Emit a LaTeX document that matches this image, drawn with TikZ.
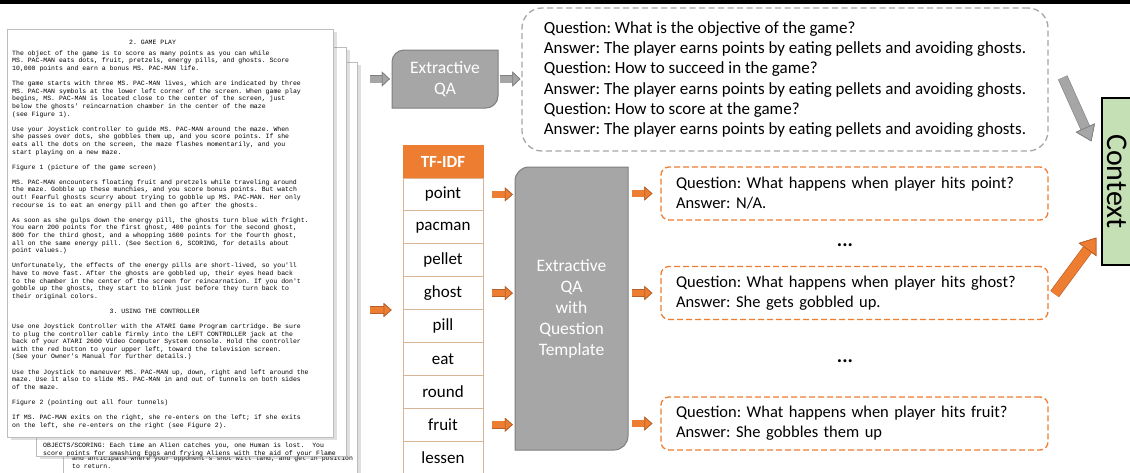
\documentclass[tikz,border=0pt]{standalone}
\usepackage{fontspec}
\setmainfont{Carlito}
\newfontfamily\docfont{Liberation Mono}
\usetikzlibrary{arrows.meta,positioning,shadows}
\frenchspacing

\definecolor{qaorange}{HTML}{ED7D31}
\definecolor{orangeedge}{HTML}{B8602A}
\definecolor{qagray}{HTML}{A6A6A6}
\definecolor{grayedge}{HTML}{7F7F7F}
\definecolor{ctxgreen}{HTML}{C5E0B4}
\definecolor{celledge}{HTML}{D8B596}
\definecolor{pageedge}{HTML}{BDBDBD}

\begin{document}
\begin{tikzpicture}[x=1pt,y=-1pt,node distance=32.9pt,on grid,
    docpage/.style={draw=pageedge,fill=white,line width=0.6pt,
      drop shadow={shadow xshift=4pt,shadow yshift=-3pt,opacity=0.25}},
    doctext/.style={font=\docfont\fontsize{6.5}{7.59}\selectfont,align=left,
      anchor=north west,inner sep=0pt},
    qashape/.style={fill=qagray,draw=grayedge,line width=1pt},
    qatext/.style={text=white,font=\fontsize{17.5}{21}\selectfont,align=center,inner sep=0pt},
    qalist/.style={draw=qagray,line width=1.3pt,dash pattern=on 6pt off 3.5pt,
      rounded corners=20pt,font=\fontsize{17}{20.2}\selectfont,align=left,
      minimum width=526pt,minimum height=143pt},
    qitem/.style={draw=qaorange,line width=1.3pt,dash pattern=on 6pt off 3pt,
      rounded corners=8pt,font=\fontsize{16.5}{20.2}\selectfont,align=left,
      text width=357pt,inner xsep=15pt,minimum height=53pt},
    wordcell/.style={draw=celledge,line width=0.8pt,fill=white,minimum width=80pt,
      minimum height=32.9pt,inner sep=0pt,font=\fontsize{17}{20}\selectfont},
    headcell/.style={wordcell,fill=qaorange,draw=qaorange,text=white,
      font=\bfseries\fontsize{17}{20}\selectfont},
    dotsnode/.style={font=\bfseries\fontsize{20}{24}\selectfont,inner sep=0pt},
    ctxbox/.style={draw=black,fill=ctxgreen,line width=1.2pt,minimum width=30pt,
      minimum height=167pt,inner sep=0pt,font=\fontsize{30}{36}\selectfont},
    grayarrow/.style={draw=qagray,line width=7pt,
      -{Triangle[length=8pt,width=15pt,line width=0.7pt,color=grayedge,fill=qagray]},
      preaction={draw=grayedge,line width=8.2pt}},
    orangearrow/.style={draw=qaorange,line width=6.5pt,
      -{Triangle[length=8pt,width=14pt,line width=0.7pt,color=orangeedge,fill=qaorange]},
      preaction={draw=orangeedge,line width=7.7pt}},
    grayslant/.style={draw=qagray,line width=9pt,
      -{Triangle[length=15pt,width=21pt,line width=0.7pt,color=grayedge,fill=qagray]},
      preaction={draw=grayedge,line width=10.2pt}},
    orangeslant/.style={draw=qaorange,line width=9.5pt,
      -{Triangle[length=15pt,width=22pt,line width=0.7pt,color=orangeedge,fill=qaorange]},
      preaction={draw=orangeedge,line width=10.7pt}}]
  \useasboundingbox (0,0) rectangle (1130,472);
  \fill[white] (0,0) rectangle (1130,472);
  \fill[black] (0,0) rectangle (1130,4);

  % stack of manual pages
  \node[docpage,minimum width=294pt,minimum height=428pt] (pagec) at (210,276) {};
  \node[doctext] (pagectext) at (72,455.5) {and anticipate where your opponent's shot will land, and get in position\\to return.};
  \node[docpage,minimum width=310pt,minimum height=409pt] (pageb) at (191,251.5) {};
  \node[doctext] (pagebtext) at (43,442.5) {OBJECTS/SCORING: Each time an Alien catches you, one Human is lost.~ You\\score points for smashing Eggs and frying Aliens with the aid of your Flame};
  \node[docpage,minimum width=326pt,minimum height=408pt] (pagea) at (170,233) {};
  \node[doctext] (pageatext) at (12,39.8) {\hspace*{117pt}2. GAME PLAY\\[3.41pt]
The object of the game is to score as many points as you can while\\
MS. PAC-MAN eats dots, fruit, pretzels, energy pills, and ghosts. Score\\
10,000 points and earn a bonus MS. PAC-MAN life.\\
~\\
The game starts with three MS. PAC-MAN lives, which are indicated by three\\
MS. PAC-MAN symbols at the lower left corner of the screen. When game play\\
begins, MS. PAC-MAN is located close to the center of the screen, just\\
below the ghosts' reincarnation chamber in the center of the maze\\
(see Figure 1).\\
~\\
Use your Joystick controller to guide MS. PAC-MAN around the maze. When\\
she passes over dots, she gobbles them up, and you score points. If she\\
eats all the dots on the screen, the maze flashes momentarily, and you\\
start playing on a new maze.\\
~\\
Figure 1 (picture of the game screen)\\
~\\
MS. PAC-MAN encounters floating fruit and pretzels while traveling around\\
the maze. Gobble up these munchies, and you score bonus points. But watch\\
out! Fearful ghosts scurry about trying to gobble up MS. PAC-MAN. Her only\\
recourse is to eat an energy pill and then go after the ghosts.\\
~\\
As soon as she gulps down the energy pill, the ghosts turn blue with fright.\\
You earn 200 points for the first ghost, 400 points for the second ghost,\\
800 for the third ghost, and a whopping 1600 points for the fourth ghost,\\
all on the same energy pill. (See Section 6, SCORING, for details about\\
point values.)\\
~\\
Unfortunately, the effects of the energy pills are short-lived, so you'll\\
have to move fast. After the ghosts are gobbled up, their eyes head back\\
to the chamber in the center of the screen for reincarnation. If you don't\\
gobble up the ghosts, they start to blink just before they turn back to\\
their original colors.\\
~\\
\hspace*{97.5pt}3. USING THE CONTROLLER\\
~\\
Use one Joystick Controller with the ATARI Game Program cartridge. Be sure\\
to plug the controller cable firmly into the LEFT CONTROLLER jack at the\\
back of your ATARI 2600 Video Computer System console. Hold the controller\\
with the red button to your upper left, toward the television screen.\\
(See your Owner's Manual for further details.)\\
~\\
Use the Joystick to maneuver MS. PAC-MAN up, down, right and left around the\\
maze. Use it also to slide MS. PAC-MAN in and out of tunnels on both sides\\
of the maze.\\
~\\
Figure 2 (pointing out all four tunnels)\\
~\\
If MS. PAC-MAN exits on the right, she re-enters on the left; if she exits\\
on the left, she re-enters on the right (see Figure 2).};
  \coordinate (docout) at (370,79);
  \coordinate (docin) at (370,310);

  % plain extractive QA
  \draw[qashape] (392,108) -- (392,62) .. controls (392,55.4) and (397.4,50) .. (404,50)
    -- (498,50) -- (498,96) .. controls (498,102.6) and (492.6,108) .. (486,108) -- cycle;
  \node[qatext,minimum width=106pt,minimum height=58pt] (eqa) at (445,79) {Extractive\\QA};
  \node[qalist] (qalist) at (785,79.5) {Question: What is the objective of the game?\\
Answer: The player earns points by eating pellets and avoiding ghosts.\\
Question: How to succeed in the game?\\
Answer: The player earns points by eating pellets and avoiding ghosts.\\
Question: How to score at the game?\\
Answer: The player earns points by eating pellets and avoiding ghosts.};

  % TF-IDF keywords
  \node[headcell] (tfidf) at (443,161.5) {TF-IDF};
  \node[wordcell] (point) [below=of tfidf] {point};
  \node[wordcell] (pacman) [below=of point] {pacman};
  \node[wordcell] (pellet) [below=of pacman] {pellet};
  \node[wordcell] (ghost) [below=of pellet] {ghost};
  \node[wordcell] (pill) [below=of ghost] {pill};
  \node[wordcell] (eat) [below=of pill] {eat};
  \node[wordcell] (round) [below=of eat] {round};
  \node[wordcell] (fruit) [below=of round] {fruit};
  \node[wordcell] (lessen) [below=of fruit] {lessen};

  % QA with question template
  \draw[qashape] (515,450) -- (515,181) .. controls (515,173.3) and (521.3,167) .. (529,167)
    -- (628,167) -- (628,436) .. controls (628,443.7) and (621.7,450) .. (614,450) -- cycle;
  \node[qatext,minimum width=113pt,minimum height=283pt] (tqa) at (571.5,308.5) {Extractive\\QA\\with\\Question\\Template};
  \node[qitem] (qpoint) at (854.5,193.5) {Question: What happens when player hits point?\\Answer: N/A.};
  \node[qitem] (qghost) at (854.5,293) {Question: What happens when player hits ghost?\\Answer: She gets gobbled up.};
  \node[qitem] (qfruit) at (854.5,423.5) {Question: What happens when player hits fruit?\\Answer: She gobbles them up};
  \node[dotsnode] (dotsa) at (845,245) {...};
  \node[dotsnode] (dotsb) at (845,361) {...};

  \node[ctxbox] (ctx) at (1117,181.5) {\rotatebox{-90}{Context}};

  % arrows
  \draw[grayarrow,shorten >=2pt] (docout) -- (eqa.west);
  \draw[grayarrow,shorten <=2pt,shorten >=1pt] (eqa.east) -- (eqa.east -| qalist.west);
  \draw[orangearrow,shorten >=11pt] (docin) -- (docin -| tfidf.west);
  \draw[orangearrow,shorten <=9pt,shorten >=2pt] (point.east) -- (point -| tqa.west);
  \draw[orangearrow,shorten <=9pt,shorten >=2pt] (ghost.east) -- (ghost -| tqa.west);
  \draw[orangearrow,shorten <=9pt,shorten >=2pt] (fruit.east) -- (fruit -| tqa.west);
  \draw[orangearrow,shorten <=4pt,shorten >=8pt] (tqa.east |- qpoint) -- (qpoint.west);
  \draw[orangearrow,shorten <=4pt,shorten >=8pt] (tqa.east |- qghost) -- (qghost.west);
  \draw[orangearrow,shorten <=4pt,shorten >=8pt] (tqa.east |- qfruit) -- (qfruit.west);
  \draw[grayslant] ([xshift=14pt,yshift=2pt]qalist.east) -- ([xshift=-10pt,yshift=-44pt]ctx.north west);
  \draw[orangeslant] ([xshift=6pt,yshift=-1pt]qghost.east) -- ([xshift=-5pt,yshift=28pt]ctx.south west);
\end{tikzpicture}
\end{document}
